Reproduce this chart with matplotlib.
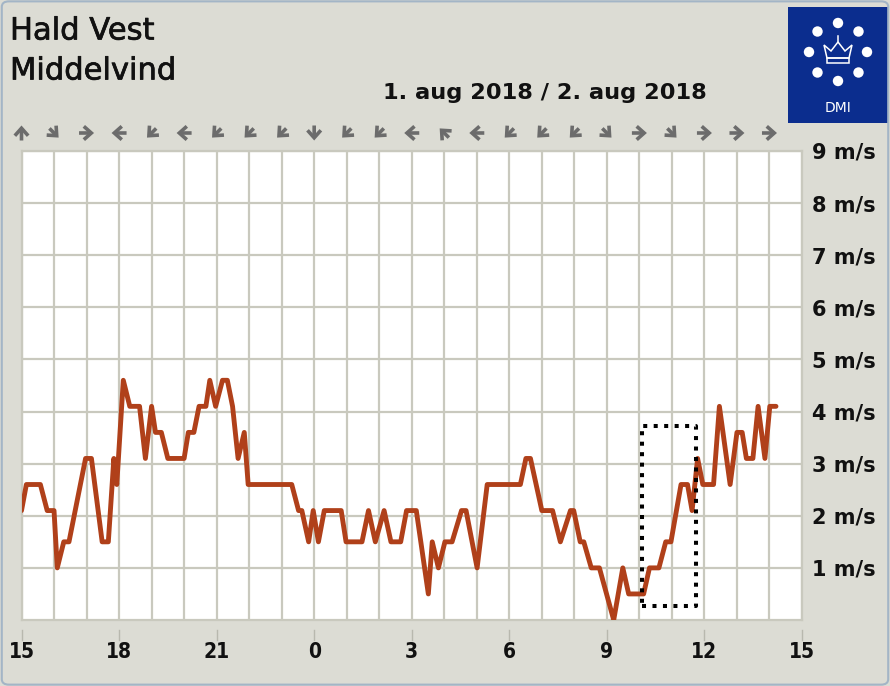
import matplotlib
matplotlib.use("Agg")
import numpy as np
import matplotlib.pyplot as plt
import matplotlib.patheffects as pe
from matplotlib.patches import FancyBboxPatch, Rectangle, Circle, Polygon, FancyArrowPatch
from matplotlib.transforms import blended_transform_factory

W, H = 890, 686

# timer efter kl. 15 (1. aug) og middelvind i m/s
tid = [0.0, 0.15, 0.58, 0.79, 1.0, 1.1, 1.3, 1.46, 1.97, 2.15, 2.48, 2.67,
       2.84, 2.93, 3.13, 3.33, 3.63, 3.81, 4.0, 4.12, 4.3, 4.5,
       5.0, 5.13, 5.3, 5.46, 5.67, 5.79, 5.97, 6.18, 6.33, 6.49, 6.66, 6.85,
       6.97, 8.31, 8.52, 8.62, 8.83, 8.97, 9.13, 9.31,
       9.83, 9.98, 10.47, 10.67, 10.88, 11.15, 11.36, 11.66, 11.84, 12.14,
       12.51, 12.63, 12.82, 13.02, 13.24, 13.53, 13.67, 14.01, 14.32,
       15.34, 15.51, 15.65, 16.0, 16.33, 16.57, 16.88, 16.98, 17.18, 17.29,
       17.52, 17.77, 18.21, 18.49, 18.67, 19.13, 19.31,
       19.6, 19.81, 19.97, 20.28, 20.48, 20.62, 20.79, 20.95, 21.28, 21.46,
       21.79, 22.0, 22.16, 22.29, 22.49, 22.65, 22.86, 23.01, 23.2]
vind = [2.1, 2.6, 2.6, 2.1, 2.1, 1.0, 1.5, 1.5, 3.1, 3.1, 1.5, 1.5,
        3.1, 2.6, 4.6, 4.1, 4.1, 3.1, 4.1, 3.6, 3.6, 3.1,
        3.1, 3.6, 3.6, 4.1, 4.1, 4.6, 4.1, 4.6, 4.6, 4.1, 3.1, 3.6,
        2.6, 2.6, 2.1, 2.1, 1.5, 2.1, 1.5, 2.1,
        2.1, 1.5, 1.5, 2.1, 1.5, 2.1, 1.5, 1.5, 2.1, 2.1,
        0.5, 1.5, 1.0, 1.5, 1.5, 2.1, 2.1, 1.0, 2.6,
        2.6, 3.1, 3.1, 2.1, 2.1, 1.5, 2.1, 2.1, 1.5, 1.5,
        1.0, 1.0, 0.0, 1.0, 0.5, 0.5, 1.0,
        1.0, 1.5, 1.5, 2.6, 2.6, 2.1, 3.1, 2.6, 2.6, 4.1,
        2.6, 3.6, 3.6, 3.1, 3.1, 4.1, 3.1, 4.1, 4.1]

xtick_pos = [0, 3, 6, 9, 12, 15, 18, 21, 24]
xtick_lab = ["15", "18", "21", "0", "3", "6", "9", "12", "15"]
ytick_pos = [1, 2, 3, 4, 5, 6, 7, 8, 9]
ytick_lab = [f"{v} m/s" for v in ytick_pos]
retning = list("↑↘→←↙←↙↙↙↓↙↙←↖←↙↙↙↘→↘→→→")
boks_x = [19.09, 20.73]
boks_y = [0.27, 3.73]

# pilens retning i grader (0 = mod højre, mod uret)
pil_vinkel = {"→": 0, "↗": 45, "↑": 90, "↖": 135, "←": 180,
              "↙": 225, "↓": 270, "↘": 315}

bg = "#dcdcd4"
grid_c = "#c9c9be"
line_c = "#b0401a"


def fx(x):
    return x / W


def fy(y):
    return 1 - y / H


fig = plt.figure(figsize=(W / 100, H / 100), dpi=100, facecolor=bg)

ax = fig.add_axes([fx(21.5), fy(620), fx(802) - fx(21.5), fy(151) - fy(620)])
ax.set_facecolor("white")
ax.set_xlim(0, 24)
ax.set_ylim(0, 9)
ax.set_xticks(range(25), minor=True)
ax.set_xticks(xtick_pos)
ax.set_xticklabels(xtick_lab)
ax.set_yticks(ytick_pos)
ax.set_yticklabels(ytick_lab)
ax.yaxis.tick_right()
ax.tick_params(axis="x", which="both", length=0, pad=16)
ax.tick_params(axis="y", which="both", length=0, pad=7)
for lab in ax.get_xticklabels():
    lab.set_fontsize(15)
    lab.set_fontweight("bold")
    lab.set_fontstretch("condensed")
    lab.set_color("#111111")
for lab in ax.get_yticklabels():
    lab.set_fontsize(15)
    lab.set_fontweight("bold")
    lab.set_color("#111111")
ax.grid(which="both", color=grid_c, lw=1.6)
ax.set_axisbelow(True)
for sp in ax.spines.values():
    sp.set_color(grid_c)
    sp.set_linewidth(1.6)

# tick-streger under akse (med mellemrum)
bt = blended_transform_factory(ax.transData, ax.transAxes)
for p in xtick_pos:
    ax.plot([p, p], [-10 / 469, -20 / 469], color="#b8b8ae", lw=1,
            transform=bt, clip_on=False)

ax.plot(tid, vind, color=line_c, lw=3.5, solid_joinstyle="round",
        solid_capstyle="round", zorder=3)

ax.plot([boks_x[0], boks_x[1], boks_x[1], boks_x[0], boks_x[0]],
        [boks_y[0], boks_y[0], boks_y[1], boks_y[1], boks_y[0]],
        color="black", lw=2.9, linestyle=(0, (1, 1.6)), zorder=4)

# vindretning som pile over hver time
pt = fig.dpi_scale_trans
x0 = ax.get_position().x0 * W
x1 = ax.get_position().x1 * W
for i, r in enumerate(retning):
    xc = x0 + (x1 - x0) * i / 24
    ang = np.deg2rad(pil_vinkel[r])
    half = 7.5 if pil_vinkel[r] % 90 == 0 else 6.5
    dx, dy = half * np.cos(ang), half * np.sin(ang)
    yc = H - 133
    arr = FancyArrowPatch(((xc - dx) / 100, (yc - dy) / 100),
                          ((xc + dx) / 100, (yc + dy) / 100),
                          transform=pt, arrowstyle="->,head_length=0.45,head_width=0.4",
                          mutation_scale=12, lw=2.6, color="#6c6c6c",
                          shrinkA=0, shrinkB=0, capstyle="butt", joinstyle="miter")
    fig.add_artist(arr)

fig.text(fx(10), fy(39.5), "Hald Vest", fontsize=22, va="baseline", color="#111111",
         path_effects=[pe.withStroke(linewidth=0.5, foreground="#111111")])
fig.text(fx(10), fy(79.5), "Middelvind", fontsize=22, va="baseline", color="#111111",
         path_effects=[pe.withStroke(linewidth=0.5, foreground="#111111")])
fig.text(fx(545), fy(99), "1. aug 2018 / 2. aug 2018", fontsize=16.2,
         fontweight="bold", ha="center", va="baseline", color="#111111")


# DMI logo (pixel -> tommer)
def lp(x, y):
    return (x / 100, (H - y) / 100)


fig.add_artist(Rectangle(lp(788, 123), 1.0, 1.16, transform=pt,
                         facecolor="#0b2d8e", edgecolor="none"))
cx, cy = 838, 52
offs = [(0, -29), (20.5, -20.5), (29, 0), (20.5, 20.5), (0, 29),
        (-20.5, 20.5), (-29, 0), (-20.5, -20.5)]
for ddx, ddy in offs:
    fig.add_artist(Circle(lp(cx + ddx, cy + ddy), 0.052, transform=pt,
                          facecolor="white", edgecolor="none"))
crown = [(827, 58), (824, 45), (831, 51), (838, 42), (845, 51), (852, 45), (849, 58)]
fig.add_artist(Polygon([lp(*p) for p in crown], closed=True, transform=pt,
                       facecolor="none", edgecolor="white", lw=1.1))
fig.add_artist(Rectangle(lp(827, 63), 0.22, 0.05, transform=pt,
                         facecolor="none", edgecolor="white", lw=1.1))
fig.add_artist(plt.Line2D([lp(838, 36)[0], lp(838, 42)[0]],
                          [lp(838, 36)[1], lp(838, 42)[1]], transform=pt,
                          color="white", lw=1.1))
fig.text(fx(838), fy(108), "DMI", fontsize=10, color="white", ha="center",
         va="center")

fig.add_artist(FancyBboxPatch((0.002, 0.002), 0.996, 0.996,
                              boxstyle="round,pad=0,rounding_size=0.008",
                              transform=fig.transFigure, facecolor="none",
                              edgecolor="#a3b5c6", lw=1.5))

fig.savefig("out.png", dpi=100, facecolor=bg)
